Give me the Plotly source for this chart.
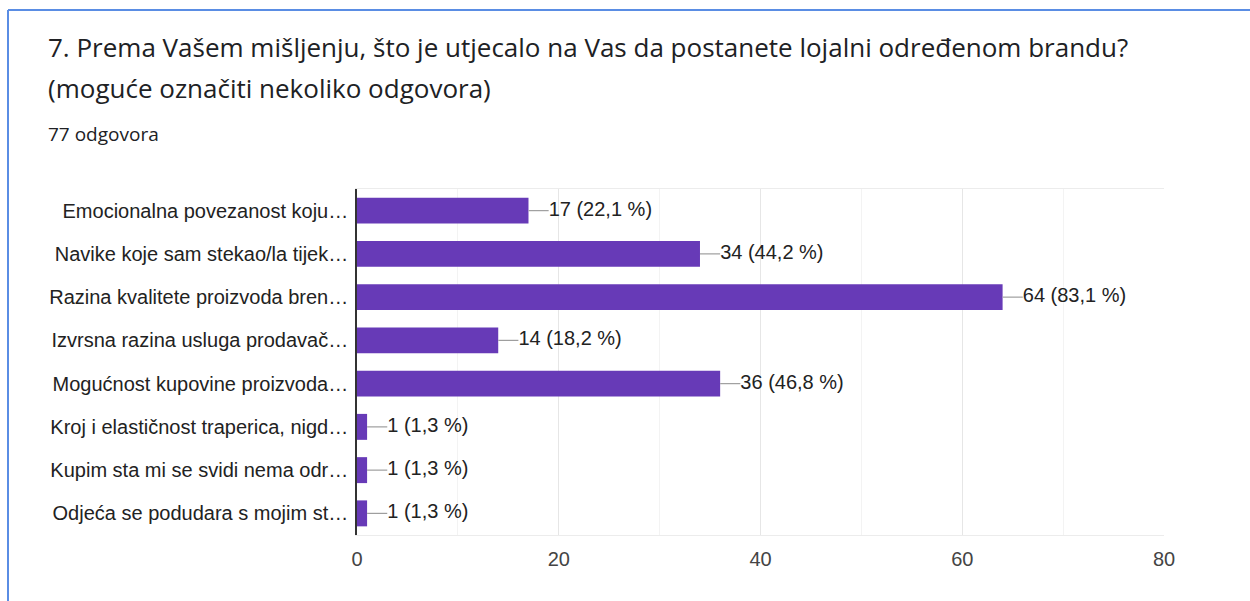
import plotly.graph_objects as go

categories = [
    "Emocionalna povezanost koju…",
    "Navike koje sam stekao/la tijek…",
    "Razina kvalitete proizvoda bren…",
    "Izvrsna razina usluga prodavač…",
    "Mogućnost kupovine proizvoda…",
    "Kroj i elastičnost traperica, nigd…",
    "Kupim sta mi se svidi nema odr…",
    "Odjeća se podudara s mojim st…",
]
counts = [17, 34, 64, 14, 36, 1, 1, 1]
percents = ["22,1", "44,2", "83,1", "18,2", "46,8", "1,3", "1,3", "1,3"]
x_ticks = [0, 20, 40, 60, 80]

title_line1 = "7. Prema Vašem mišljenju, što je utjecalo na Vas da postanete lojalni određenom brandu?"
title_line2 = "(moguće označiti nekoliko odgovora)"
subtitle = "77 odgovora"

W, H = 1250, 601
ML, MR, MT, MB = 357, 86, 189, 66
PW, PH = W - ML - MR, H - MT - MB

def px_x(p):
    return (p - ML) / PW

def px_y(p):
    return (H - MB - p) / PH

BAR = "#673ab7"
LEADER = 2.0
ARIAL = "Liberation Sans, Arial"

fig = go.Figure()
fig.add_trace(go.Bar(
    x=counts, y=categories, orientation="h",
    marker=dict(color=BAR, line=dict(width=0)),
    width=0.6, hoverinfo="skip", showlegend=False,
))

# leader lines
lx, ly = [], []
for c, cat in zip(counts, categories):
    lx += [c, c + LEADER, None]
    ly += [cat, cat, None]
fig.add_trace(go.Scatter(
    x=lx, y=ly, mode="lines", line=dict(color="#9e9e9e", width=1.2),
    hoverinfo="skip", showlegend=False,
))
fig.add_trace(go.Scatter(
    x=[c + LEADER for c in counts], y=categories, mode="text",
    text=[f"{c} ({p} %)" for c, p in zip(counts, percents)],
    textposition="middle right",
    textfont=dict(family=ARIAL, size=20, color="#222222"),
    hoverinfo="skip", showlegend=False, cliponaxis=False,
))

fig.update_layout(
    width=W, height=H,
    margin=dict(l=ML, r=MR, t=MT, b=MB),
    paper_bgcolor="white", plot_bgcolor="white",
    xaxis=dict(
        range=[0, 80], tickvals=x_ticks, ticktext=[str(t) for t in x_ticks],
        showgrid=True, gridcolor="#e6e6e6", gridwidth=1,
        minor=dict(dtick=10, showgrid=True, gridcolor="#f3f3f3"),
        showline=True, mirror=True, linecolor="#ececec", linewidth=1,
        zeroline=False, ticks="", ticklabelstandoff=6,
        tickfont=dict(family=ARIAL, size=20, color="#444444"),
        fixedrange=True,
    ),
    yaxis=dict(
        categoryorder="array", categoryarray=categories, autorange="reversed",
        showline=True, linecolor="#333333", linewidth=1.5, mirror=False,
        showgrid=False, ticks="", ticklabelstandoff=3,
        tickfont=dict(family=ARIAL, size=20, color="#222222"),
        fixedrange=True,
    ),
    annotations=[
        dict(text=title_line1, xref="paper", yref="paper", x=px_x(46), y=px_y(47),
             xanchor="left", yanchor="middle", showarrow=False,
             font=dict(family="Open Sans", size=26, color="#202124")),
        dict(text=title_line2, xref="paper", yref="paper", x=px_x(46), y=px_y(88),
             xanchor="left", yanchor="middle", showarrow=False,
             font=dict(family="Open Sans", size=26, color="#202124")),
        dict(text=subtitle, xref="paper", yref="paper", x=px_x(46), y=px_y(134),
             xanchor="left", yanchor="middle", showarrow=False,
             font=dict(family="Open Sans", size=19, color="#202124")),
    ],
    shapes=[
        dict(type="line", xref="paper", yref="paper", x0=px_x(8), x1=px_x(W + 5),
             y0=px_y(10), y1=px_y(10), line=dict(color="#5a8de4", width=2)),
        dict(type="line", xref="paper", yref="paper", x0=px_x(8), x1=px_x(8),
             y0=px_y(10), y1=px_y(H + 5), line=dict(color="#5a8de4", width=2)),
    ],
)

fig.write_html(
    "out.html",
    config={"displayModeBar": False},
    post_script="document.body.style.margin='0';document.body.style.overflow='hidden';",
)
